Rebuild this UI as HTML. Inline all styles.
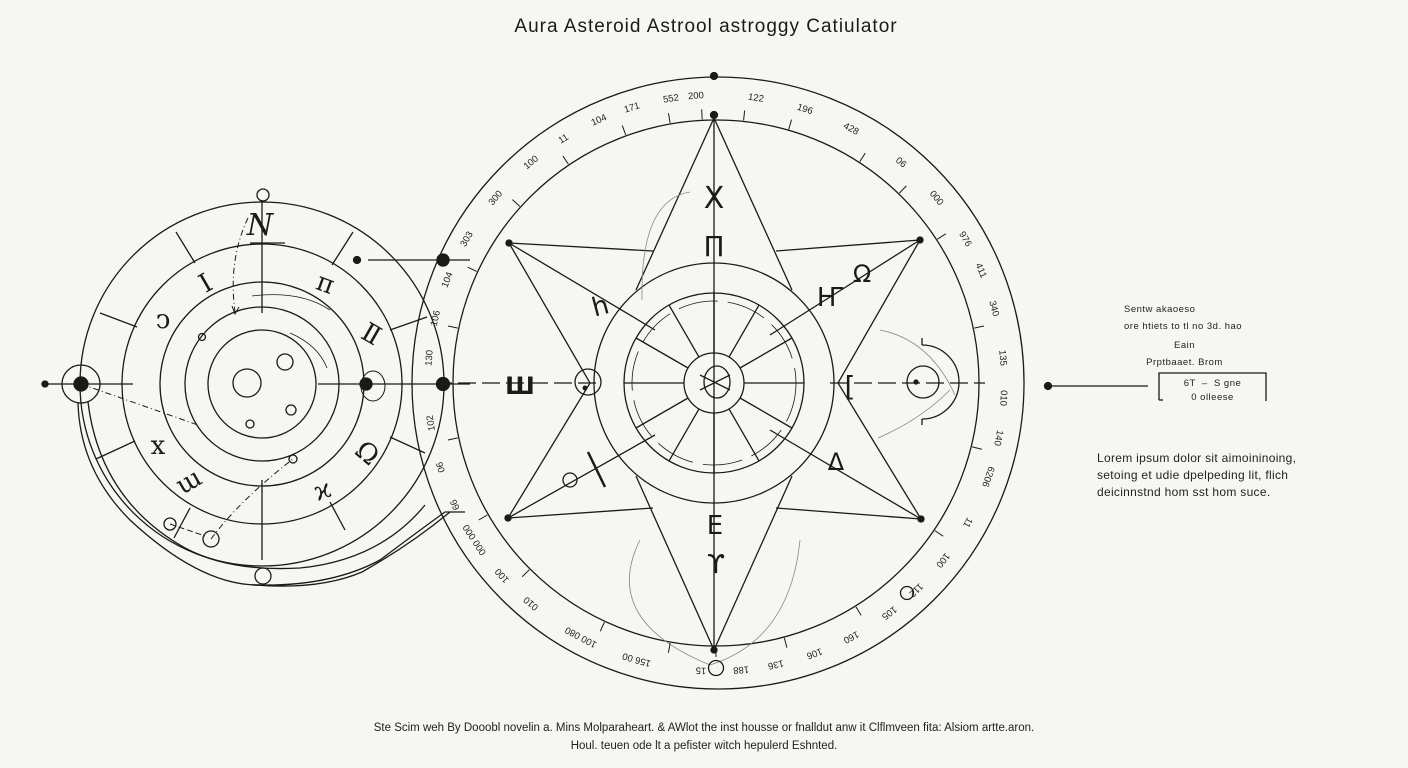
<!DOCTYPE html>
<html><head><meta charset="utf-8"><style>
html,body{margin:0;padding:0;background:#f6f6f3;}
body{width:1408px;height:768px;overflow:hidden;position:relative;font-family:"Liberation Sans",sans-serif;color:#222;}
svg{position:absolute;left:0;top:0;}
.t{position:absolute;white-space:nowrap;}
</style></head><body>
<svg id="s" width="1408" height="768" viewBox="0 0 1408 768" fill="none" stroke="#1a1a1a" stroke-width="1.3">
<text x="706" y="32" text-anchor="middle" font-size="19" fill="#1a1a1a" stroke="none" letter-spacing="1" font-family="Liberation Sans">Aura Asteroid Astrool astroggy Catiulator</text>

<g>
<circle cx="262" cy="384" r="182"/>
<circle cx="262" cy="384" r="140"/>
<circle cx="262" cy="384" r="102"/>
<circle cx="262" cy="384" r="77"/>
<circle cx="262" cy="384" r="54"/>
<circle cx="247" cy="383" r="14"/>
<circle cx="285" cy="362" r="8"/>
<circle cx="291" cy="410" r="5"/>
<circle cx="250" cy="424" r="4"/>
<circle cx="202" cy="337" r="3.5"/>
<circle cx="293" cy="459" r="4"/>
<line x1="176" y1="232" x2="195" y2="263"/>
<line x1="353" y1="232" x2="332" y2="265"/>
<line x1="100" y1="313" x2="137" y2="327"/>
<line x1="427" y1="317" x2="390" y2="330"/>
<line x1="96" y1="459" x2="135" y2="441"/>
<line x1="425" y1="453" x2="390" y2="437"/>
<line x1="174" y1="538" x2="190" y2="508"/>
<line x1="345" y1="530" x2="330" y2="502"/>
<line x1="262" y1="200" x2="262" y2="313"/>
<line x1="262" y1="480" x2="262" y2="560"/>
<line x1="250" y1="243" x2="285" y2="243"/>
<circle cx="263" cy="195" r="6"/>
<line x1="45" y1="384" x2="133" y2="384"/>
<line x1="318" y1="384" x2="470" y2="384"/>
<circle cx="45" cy="384" r="3" fill="#1a1a1a"/>
<circle cx="81" cy="384" r="19"/>
<circle cx="81" cy="384" r="7" fill="#1a1a1a"/>
<circle cx="366" cy="384" r="6" fill="#1a1a1a"/>
<ellipse cx="373" cy="386" rx="12" ry="15" stroke-width="1"/>
<circle cx="443" cy="384" r="6.5" fill="#1a1a1a"/>
<line x1="368" y1="260" x2="470" y2="260"/>
<circle cx="357" cy="260" r="3.5" fill="#1a1a1a"/>
<circle cx="443" cy="260" r="6" fill="#1a1a1a"/>
<path d="M81 384 L198 425" stroke-dasharray="6 3 1 3" stroke-width="1"/>
<path d="M248 218 Q228 260 235 312" stroke-dasharray="6 3 1 3" stroke-width="1"/>
<path d="M232 306 l3 8 l4 -7" stroke-width="1"/>
<path d="M211 539 Q240 500 293 459" stroke-dasharray="6 3 1 3" stroke-width="1"/>
<path d="M170 524 L205 536" stroke-dasharray="6 3" stroke-width="1"/>
<circle cx="170" cy="524" r="6"/>
<circle cx="211" cy="539" r="8"/>
<path d="M252 296 Q300 290 330 310" stroke-width="0.8"/>
<path d="M290 333 Q318 345 327 368" stroke-width="0.8"/>
<path d="M88 402 Q100 500 185 548 Q230 572 300 568 Q380 560 425 505" />
<path d="M78 403 Q80 470 130 520 Q200 585 258 585 L260 585"/>
<path d="M255 585 Q330 587 380 560 Q420 530 445 512 L465 512" />
<path d="M255 585 Q320 590 362 572 Q410 545 450 512"/>
<circle cx="263" cy="576" r="8"/>
<line x1="252" y1="585" x2="272" y2="585"/>
<g fill="#1a1a1a" stroke="none" font-family="DejaVu Serif" font-size="26" text-anchor="middle">
<text x="260" y="235" font-size="30" font-style="italic">N</text>
<text x="205" y="292" transform="rotate(-30 205 282)">I</text>
<text x="163" y="328">ↄ</text>
<text x="326" y="292" transform="rotate(20 326 282)">π</text>
<text x="372" y="343" transform="rotate(30 372 333)">Ⅱ</text>
<text x="368" y="462" transform="rotate(40 368 452)">Ω</text>
<text x="158" y="454">x</text>
<text x="188" y="490" transform="rotate(-30 188 480)">ɯ</text>
<text x="322" y="499" transform="rotate(-20 322 489)">ϰ</text>
</g>
</g>

<g>
<circle cx="718" cy="383" r="306"/>
<circle cx="716" cy="383" r="263"/>
<circle cx="714" cy="76" r="3.5" fill="#1a1a1a"/>
<circle cx="714" cy="115" r="3.5" fill="#1a1a1a"/>
<circle cx="714" cy="383" r="120"/>
<circle cx="714" cy="383" r="90"/>
<circle cx="714" cy="383" r="82" stroke-width="0.8" stroke-dasharray="40 10"/>
<circle cx="714" cy="383" r="30"/>
<ellipse cx="717" cy="382" rx="13" ry="16"/>
<line x1="700" y1="375" x2="730" y2="390"/>
<line x1="700" y1="390" x2="730" y2="375"/>
<line x1="509" y1="243" x2="653" y2="251"/>
<line x1="920" y1="240" x2="776" y2="251"/>
<line x1="508" y1="518" x2="653" y2="508"/>
<line x1="921" y1="519" x2="776" y2="508"/>
<polyline points="714,118 636,290"/>
<polyline points="714,118 792,290"/>
<polyline points="714,650 636,476"/>
<polyline points="714,650 792,476"/>
<polyline points="509,243 590,383 508,518"/>
<polyline points="920,240 838,383 921,519"/>
<line x1="509" y1="243" x2="655" y2="330"/>
<line x1="921" y1="519" x2="770" y2="430"/>
<line x1="920" y1="240" x2="770" y2="335"/>
<line x1="508" y1="518" x2="655" y2="435"/>
<line x1="714" y1="115" x2="714" y2="650"/>
<line x1="458" y1="383" x2="600" y2="383" stroke-dasharray="18 6"/>
<line x1="830" y1="383" x2="985" y2="383" stroke-dasharray="18 6"/>
<circle cx="509" cy="243" r="3" fill="#1a1a1a"/>
<circle cx="920" cy="240" r="3" fill="#1a1a1a"/>
<circle cx="508" cy="518" r="3" fill="#1a1a1a"/>
<circle cx="921" cy="519" r="3" fill="#1a1a1a"/>
<circle cx="714" cy="650" r="3" fill="#1a1a1a"/>
<g id="spokes"></g>
<g stroke="#888" stroke-width="0.8">
<path d="M690 192 Q640 200 642 300"/>
<path d="M880 330 Q930 340 955 395"/>
<path d="M878 438 Q920 420 950 390"/>
<path d="M640 540 Q600 620 710 665 Q790 640 800 540"/>
</g>
<circle cx="588" cy="382" r="13"/>
<circle cx="585" cy="388" r="1.8" fill="#1a1a1a"/>
<circle cx="923" cy="382" r="16"/>
<circle cx="916" cy="382" r="2" fill="#1a1a1a"/>
<path d="M922 345 A37 37 0 0 1 922 419"/>
<line x1="922" y1="345" x2="922" y2="338"/>
<line x1="922" y1="419" x2="922" y2="425"/>
<circle cx="716" cy="668" r="7.5"/>
<circle cx="907" cy="593" r="6.5"/>
<circle cx="570" cy="480" r="7"/>
<line x1="588" y1="452" x2="605" y2="487" stroke-width="2.5"/>
<g fill="#1a1a1a" stroke="none" font-family="DejaVu Sans" text-anchor="middle">
<text x="714" y="208" font-size="30">X</text>
<text x="714" y="256" font-size="28">Π</text>
<text x="600" y="315" font-size="26" transform="rotate(-15 600 305)">h</text>
<text x="520" y="394" font-size="24" font-weight="bold">Ш</text>
<text x="715" y="534" font-size="26">E</text>
<text x="716" y="573" font-size="26">ϒ</text>
<text x="830" y="306" font-size="26">Ҥ</text>
<text x="862" y="282" font-size="24">Ω</text>
<text x="850" y="396" font-size="28">[</text>
<text x="836" y="470" font-size="24">Δ</text>
</g>
<g id="lbl" fill="#222" stroke="none" font-family="Liberation Sans" font-size="9.5" text-anchor="middle"></g>
<g id="ticks" stroke-width="1"></g>
</g>

<line x1="1048" y1="386" x2="1148" y2="386"/>
<circle cx="1048" cy="386" r="3.5" fill="#1a1a1a"/>
<polyline points="1159,400 1159,373 1266,373 1266,401"/>
<line x1="1159" y1="400" x2="1163" y2="400"/>
</svg>

<div class="t" style="left:1124px;top:301px;font-size:9.5px;line-height:17px;letter-spacing:0.5px;">Sentw akaoeso<br>ore htiets to tl no 3d. hao</div>
<div class="t" style="left:1137px;top:337px;font-size:9.5px;line-height:17px;letter-spacing:0.5px;text-align:center;width:95px;">Eain<br>Prptbaaet. Brom</div>
<div class="t" style="left:1159px;top:377px;width:107px;text-align:center;font-size:9.5px;line-height:14px;letter-spacing:0.5px;">6T &nbsp;– &nbsp;S gne<br>0 olleese</div>
<div class="t" style="left:1097px;top:450px;font-size:12px;line-height:17px;letter-spacing:0.3px;">Lorem ipsum dolor sit aimoininoing,<br>setoing et udie dpelpeding lit, flich<br>deicinnstnd hom sst hom suce.</div>
<div class="t" style="left:0;width:1408px;top:719px;text-align:center;font-size:11.5px;line-height:18px;">Ste Scim weh By Dooobl novelin a. Mins Molparaheart. &amp; AWlot the inst housse or fnalldut anw it Clflmveen fita: Alsiom artte.aron.<br>Houl. teuen ode lt a pefister witch hepulerd Eshnted.</div>

<script>
var NS="http://www.w3.org/2000/svg";
var cx=716,cy=383;
function el(t,a,p){var e=document.createElementNS(NS,t);for(var k in a)e.setAttribute(k,a[k]);document.getElementById(p).appendChild(e);return e;}
for(var i=0;i<12;i++){var a=(i*30)*Math.PI/180;
el("line",{x1:714+30*Math.sin(a),y1:383-30*Math.cos(a),x2:714+90*Math.sin(a),y2:383-90*Math.cos(a)},"spokes");}
var L=[[-4,"200"],[8,"122"],[18,"196"],[28,"428"],[40,"06"],[50,"000"],[60,"976"],[67,"411"],[75,"340"],[85,"135"],[93,"010"],[101,"140"],[109,"6206"],[119,"11"],[128,"100"],[136,"112"],[143,"105"],[152,"160"],[160,"106"],[168,"136"],[175,"188"],[183,"15"],[196,"156 00"],[208,"100 080"],[220,"010"],[228,"100"],[237,"000 000"],[245,"66"],[253,"06"],[262,"102"],[275,"130"],[283,"106"],[291,"104"],[300,"303"],[310,"300"],[320,"100"],[328,"11"],[336,"104"],[343,"171"],[351,"552"]];
L.forEach(function(d){var a=d[0]*Math.PI/180,r=288;var x=cx+r*Math.sin(a),y=cy-r*Math.cos(a);
var t=el("text",{x:x,y:y+3,transform:"rotate("+d[0]+" "+x+" "+y+")"},"lbl");t.textContent=d[1];});
var T=[-3,6,16,33,44,57,78,104,124,148,165,180,190,205,225,240,258,270,282,295,312,326,340,350];
T.forEach(function(d){var a=d*Math.PI/180;el("line",{x1:cx+264*Math.sin(a),y1:cy-264*Math.cos(a),x2:cx+274*Math.sin(a),y2:cy-274*Math.cos(a)},"ticks");});
</script>
</body></html>
